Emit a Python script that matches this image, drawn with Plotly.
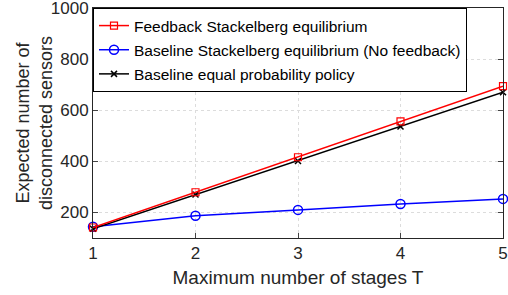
import plotly.graph_objects as go

T = [1, 2, 3, 4, 5]
feedback = [141, 279, 416, 556, 694]
no_feedback = [144, 187, 210, 233, 253]
equal_prob = [136, 270, 401, 536, 670]
names = ["Feedback Stackelberg equilibrium",
         "Baseline Stackelberg equilibrium (No feedback)",
         "Baseline equal probability policy"]
x_ticks = [1, 2, 3, 4, 5]
y_ticks = [200, 400, 600, 800, 1000]
x_title = "Maximum number of stages T"
y_title = "Expected number of<br>disconnected sensors"

fig = go.Figure()
fig.add_trace(go.Scatter(x=T, y=no_feedback, name=names[1], mode="lines+markers",
                         legendgroup="b", legendrank=2, cliponaxis=False,
                         line=dict(color="#0000ff", width=1.5),
                         marker=dict(symbol="circle-open", size=9, color="#0000ff", line=dict(width=1.5))))
fig.add_trace(go.Scatter(x=T, y=equal_prob, name=names[2], mode="lines+markers",
                         legendgroup="c", legendrank=3, cliponaxis=False,
                         line=dict(color="black", width=1.5),
                         marker=dict(symbol="x-thin-open", size=6, color="black", line=dict(width=1.5))))
fig.add_trace(go.Scatter(x=T, y=feedback, name=names[0], mode="lines+markers",
                         legendgroup="a", legendrank=1, cliponaxis=False,
                         line=dict(color="#ff0000", width=1.5),
                         marker=dict(symbol="square-open", size=7, color="#ff0000", line=dict(width=1.2))))

fig.update_layout(
    width=508, height=295,
    margin=dict(l=93, r=5, t=8, b=57),
    paper_bgcolor="white", plot_bgcolor="white",
    font=dict(family="Liberation Sans, Arial, sans-serif", color="#262626", size=17),
    showlegend=True,
    legend=dict(x=0, y=1, xanchor="left", yanchor="top", traceorder="grouped",
                bgcolor="white", bordercolor="black", borderwidth=1,
                font=dict(size=15.5, color="black"), tracegroupgap=1,
                itemwidth=30),
    xaxis=dict(range=[1, 5], tickvals=x_ticks, ticks="inside", ticklen=5,
               showline=True, linecolor="#262626", linewidth=1, mirror="ticks",
               showgrid=True, gridcolor="#dcdcdc", griddash="dot", zeroline=False,
               tickfont=dict(size=17), automargin=False, ticklabeloverflow="allow",
               title=dict(text=x_title, font=dict(size=19), standoff=8)),
    yaxis=dict(range=[100, 1000], tickvals=y_ticks, ticks="inside", ticklen=5,
               showline=True, linecolor="#262626", linewidth=1, mirror="ticks",
               showgrid=True, gridcolor="#dcdcdc", griddash="dot", zeroline=False,
               tickfont=dict(size=17), automargin=False, ticklabeloverflow="allow"),
    annotations=[dict(text=y_title, xref="paper", yref="paper", x=0, y=0.5,
                      xanchor="center", yanchor="middle", xshift=-59, textangle=-90,
                      showarrow=False, font=dict(size=18, color="#262626"))],
)
fig.write_html("out.html", config={"displayModeBar": False},
               post_script="document.body.style.margin='0';")
